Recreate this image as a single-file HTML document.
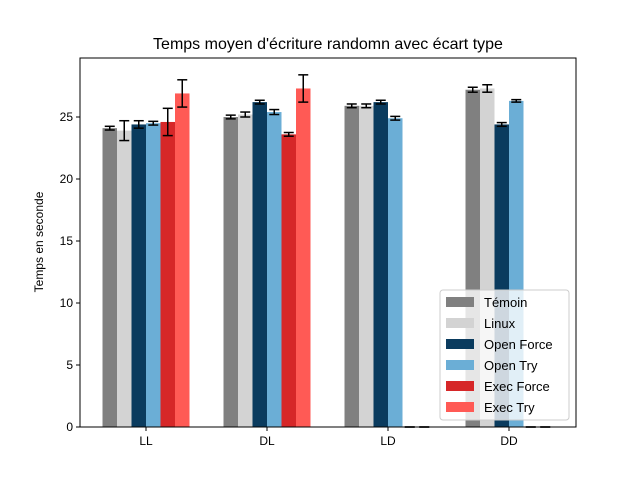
<!DOCTYPE html>
<html><head><meta charset="utf-8"><style>
body{margin:0;background:#fff;font-family:"Liberation Sans","DejaVu Sans",sans-serif}
</style></head><body>
<svg id="c" width="640" height="480" xmlns="http://www.w3.org/2000/svg"></svg>
<script>
const categories=["LL","DL","LD","DD"];
const seriesNames=["Témoin","Linux","Open Force","Open Try","Exec Force","Exec Try"];
const seriesColors=["#808080","#d3d3d3","#0a3b5e","#6baed6","#d62728","#ff5a55"];
const temoin=[24.1,25.0,25.9,27.2];
const linux=[23.9,25.2,25.9,27.3];
const openForce=[24.4,26.2,26.2,24.4];
const openTry=[24.5,25.4,24.9,26.3];
const execForce=[24.6,23.6,0,0];
const execTry=[26.9,27.3,0,0];
const errTemoin=[0.15,0.15,0.15,0.2];
const errLinux=[0.8,0.2,0.15,0.3];
const errOpenForce=[0.3,0.15,0.15,0.15];
const errOpenTry=[0.15,0.2,0.15,0.1];
const errExecForce=[1.1,0.15,0,0];
const errExecTry=[1.1,1.1,0,0];
const yTicks=[0,5,10,15,20,25];
const values=[temoin,linux,openForce,openTry,execForce,execTry];
const errs=[errTemoin,errLinux,errOpenForce,errOpenTry,errExecForce,errExecTry];
const NS="http://www.w3.org/2000/svg";
const svg=document.getElementById('c');
const L=80,R=576,T=58,B=427;
const y=v=>B-v*12.4;
const x=i=>146+i*121;
const bw=14.5;
function mk(t,a,p){const e=document.createElementNS(NS,t);for(const k in a)e.setAttribute(k,a[k]);(p||svg).appendChild(e);return e;}
const bars=mk('g',{});


values.forEach((s,si)=>{s.forEach((v,ci)=>{
 const cx=x(ci)+(si-2.5)*bw;
 const r=mk('rect',{x:cx-bw/2,y:y(v),width:bw,height:B-y(v),fill:seriesColors[si]},bars);
 
 
 const e=errs[si][ci];
 const g=mk('g',{stroke:'#000','stroke-width':1.5},bars);
 
 
 mk('line',{x1:cx,x2:cx,y1:y(v-e),y2:y(v+e)},g);
 mk('line',{x1:cx-5,x2:cx+5,y1:y(v-e),y2:y(v-e)},g);
 mk('line',{x1:cx-5,x2:cx+5,y1:y(v+e),y2:y(v+e)},g);
});});
const frame=mk('rect',{x:L,y:T,width:R-L,height:B-T,fill:'none',stroke:'#000','stroke-width':1});


yTicks.forEach(t=>{
 mk('line',{x1:L-4,x2:L,y1:y(t),y2:y(t),stroke:'#000'});
 const tx=mk('text',{x:L-7,y:y(t)+4,'text-anchor':'end','font-size':12});
 tx.textContent=t;
 
 
});
categories.forEach((c,i)=>{
 mk('line',{x1:x(i),x2:x(i),y1:B,y2:B+4,stroke:'#000'});
 const tx=mk('text',{x:x(i),y:B+18,'text-anchor':'middle','font-size':12});
 tx.textContent=c;
 
 
});
const title=mk('text',{x:328,y:49,'text-anchor':'middle','font-size':16});
title.textContent="Temps moyen d'écriture randomn avec écart type";


const yl=mk('text',{x:0,y:0,'text-anchor':'middle','font-size':12,transform:'translate(43,242) rotate(-90)'});
yl.textContent="Temps en seconde";


const leg=mk('g',{});


mk('rect',{x:440,y:290,width:129,height:130,rx:3,fill:'#fff','fill-opacity':0.8,stroke:'#ccc'},leg);
seriesNames.forEach((n,i)=>{
 const ly=302+i*21;
 mk('rect',{x:446,y:ly-5,width:28,height:10,fill:seriesColors[i]},leg);
 const t=mk('text',{x:484,y:ly+5,'font-size':13},leg);
 t.textContent=n;
 
 
});
</script>
</body></html>
